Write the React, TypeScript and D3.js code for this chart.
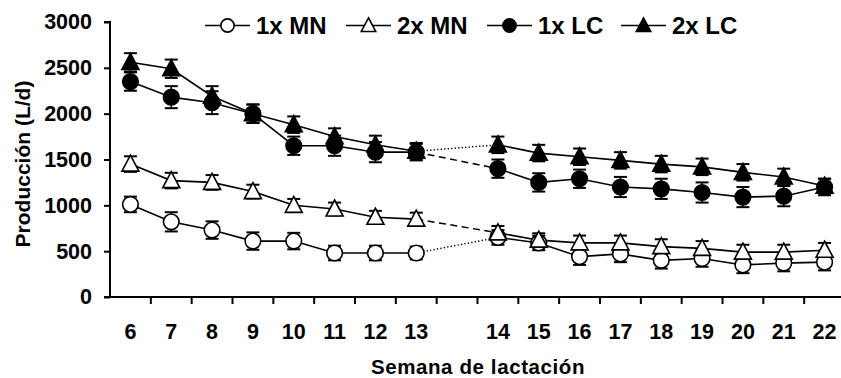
import React, { useEffect, useRef } from "react";
import * as d3 from "d3";

// weeks of lactation (a gap is left between 13 and 14)
const weeks = ["6", "7", "8", "9", "10", "11", "12", "13", "14", "15", "16", "17", "18", "19", "20", "21", "22"];
const yTicks = [0, 500, 1000, 1500, 2000, 2500, 3000];

const seriesNames = ["1x MN", "2x MN", "1x LC", "2x LC"];

const mn1 = [1010, 820, 730, 610, 610, 480, 480, 480, 650, 590, 440, 470, 400, 420, 350, 370, 380];
const mn2 = [1450, 1270, 1250, 1150, 1000, 960, 870, 850, 700, 620, 590, 590, 550, 530, 490, 490, 510];
const lc1 = [2350, 2180, 2120, 2000, 1650, 1650, 1580, 1580, 1400, 1250, 1290, 1200, 1180, 1140, 1090, 1100, 1200];
const lc2 = [2560, 2490, 2190, 2000, 1880, 1750, 1660, 1590, 1660, 1570, 1530, 1490, 1450, 1420, 1360, 1310, 1210];

// standard errors
const mn1Se = [85, 105, 95, 95, 90, 80, 80, 70, 80, 80, 90, 90, 90, 90, 90, 90, 90];
const mn2Se = [85, 85, 80, 75, 70, 70, 70, 70, 75, 75, 80, 80, 80, 80, 80, 80, 80];
const lc1Se = [100, 120, 125, 100, 100, 110, 110, 90, 100, 100, 100, 110, 110, 110, 110, 110, 90];
const lc2Se = [100, 100, 110, 100, 90, 90, 100, 90, 90, 90, 90, 90, 90, 90, 90, 90, 80];

const FONT = "'Liberation Sans', Arial, sans-serif";

const App = () => {
  const svgRef = useRef<SVGSVGElement>(null);

  useEffect(() => {
    const w = 841;
    const h = 378;
    const left = 110;
    const right = 845;
    const top = 22;
    const bottom = 297;

    const svg = d3.select(svgRef.current);
    svg.selectAll("*").remove();

    const slots = [...weeks.slice(0, 8), "gap", ...weeks.slice(8)];
    const x = d3.scaleBand<string>().domain(slots).range([left, right]).padding(0);
    const cx = (wk: string) => (x(wk) as number) + x.bandwidth() / 2;
    const y = d3.scaleLinear().domain([0, 3000]).range([bottom, top]);

    const series = [
      { name: seriesNames[0], vals: mn1, se: mn1Se, shape: "circle", fill: "#fff", link: "1.3,2.2" },
      { name: seriesNames[1], vals: mn2, se: mn2Se, shape: "triangle", fill: "#fff", link: "7,4.5" },
      { name: seriesNames[2], vals: lc1, se: lc1Se, shape: "circle", fill: "#000", link: "7,4.5" },
      { name: seriesNames[3], vals: lc2, se: lc2Se, shape: "triangle", fill: "#000", link: "1.3,2.2" },
    ];

    const triPath = (px: number, py: number, s = 1) =>
      `M${px},${py - 9 * s}L${px + 8.5 * s},${py + 7 * s}L${px - 8.5 * s},${py + 7 * s}Z`;

    const drawMarker = (g: any, shape: string, fill: string, px: number, py: number, s = 1) => {
      if (shape === "circle") {
        g.append("circle").attr("cx", px).attr("cy", py).attr("r", 7.8 * s)
          .attr("fill", fill).attr("stroke", "#000").attr("stroke-width", 1.6);
      } else {
        g.append("path").attr("d", triPath(px, py, s))
          .attr("fill", fill).attr("stroke", "#000").attr("stroke-width", 1.6).attr("stroke-linejoin", "miter");
      }
    };

    // axes
    const yAxis = d3.axisLeft(y).tickValues(yTicks).tickSize(6).tickPadding(12).tickFormat(d3.format("d"));
    const gy = svg.append("g").attr("transform", `translate(${left},0)`).call(yAxis);
    gy.select(".domain").attr("stroke-width", 2).attr("d", `M-6,${top}H0V${bottom}`);
    gy.selectAll(".tick line").attr("stroke-width", 2);
    gy.selectAll(".tick text").attr("font-size", 21.5).attr("font-weight", "bold").attr("font-family", FONT).attr("fill", "#000");

    svg.append("line").attr("x1", left - 6).attr("x2", right).attr("y1", bottom).attr("y2", bottom)
      .attr("stroke", "#000").attr("stroke-width", 2);
    slots.forEach((s) => {
      const bx = (x(s) as number) + x.bandwidth();
      svg.append("line").attr("x1", bx).attr("x2", bx).attr("y1", bottom).attr("y2", bottom + 7)
        .attr("stroke", "#000").attr("stroke-width", 2);
    });
    svg.append("g").selectAll("text").data(weeks).join("text")
      .attr("x", (d) => cx(d)).attr("y", 339).attr("text-anchor", "middle")
      .attr("font-size", 21.5).attr("font-weight", "bold").attr("font-family", FONT).text((d) => d);

    // axis titles
    svg.append("text").attr("transform", "translate(30,164) rotate(-90)").attr("text-anchor", "middle")
      .attr("font-size", 21).attr("font-weight", "bold").attr("font-family", FONT).text("Producción (L/d)");
    svg.append("text").attr("x", 478).attr("y", 374).attr("text-anchor", "middle")
      .attr("font-size", 20.5).attr("letter-spacing", 0.6).attr("font-weight", "bold").attr("font-family", FONT)
      .text("Semana de lactación");

    const line = d3.line<number>().x((_, i) => 0).y((d) => y(d));
    const plot = svg.append("g");

    series.forEach((s) => {
      const seg1 = weeks.slice(0, 8).map((wk, i) => [cx(wk), y(s.vals[i])] as [number, number]);
      const seg2 = weeks.slice(8).map((wk, i) => [cx(wk), y(s.vals[i + 8])] as [number, number]);
      const gen = d3.line();
      plot.append("path").attr("d", gen(seg1)).attr("fill", "none").attr("stroke", "#000").attr("stroke-width", 1.6);
      plot.append("path").attr("d", gen(seg2)).attr("fill", "none").attr("stroke", "#000").attr("stroke-width", 1.6);
      plot.append("path").attr("d", gen([seg1[7], seg2[0]])).attr("fill", "none").attr("stroke", "#000")
        .attr("stroke-width", 1.5).attr("stroke-dasharray", s.link);
    });
    void line;

    series.forEach((s) => {
      const g = plot.append("g");
      weeks.forEach((wk, i) => {
        const px = cx(wk);
        const lo = y(s.vals[i] - s.se[i]);
        const hi = y(s.vals[i] + s.se[i]);
        g.append("line").attr("x1", px).attr("x2", px).attr("y1", lo).attr("y2", hi).attr("stroke", "#000").attr("stroke-width", 1.6);
        [lo, hi].forEach((cy) =>
          g.append("line").attr("x1", px - 6.5).attr("x2", px + 6.5).attr("y1", cy).attr("y2", cy)
            .attr("stroke", "#000").attr("stroke-width", 2));
      });
    });

    series.forEach((s) => {
      const g = plot.append("g");
      weeks.forEach((wk, i) => drawMarker(g, s.shape, s.fill, cx(wk), y(s.vals[i])));
    });

    // legend
    const legendX = [205, 346, 487, 621];
    const ly = 25.5;
    series.forEach((s, i) => {
      const g = svg.append("g");
      const x0 = legendX[i];
      g.append("line").attr("x1", x0).attr("x2", x0 + 45).attr("y1", ly).attr("y2", ly).attr("stroke", "#000").attr("stroke-width", 1.6);
      drawMarker(g, s.shape, s.fill, x0 + 22.5, ly, 0.85);
      g.append("text").attr("x", x0 + 51).attr("y", ly + 8.5).attr("font-size", 24).attr("font-weight", "bold")
        .attr("font-family", FONT).text(s.name);
    });

    svg.attr("width", w).attr("height", h);
  }, []);

  return (
    <svg ref={svgRef} width={841} height={378} style={{ position: "absolute", left: 0, top: 0, background: "#fff" }} />
  );
};

export default App;
